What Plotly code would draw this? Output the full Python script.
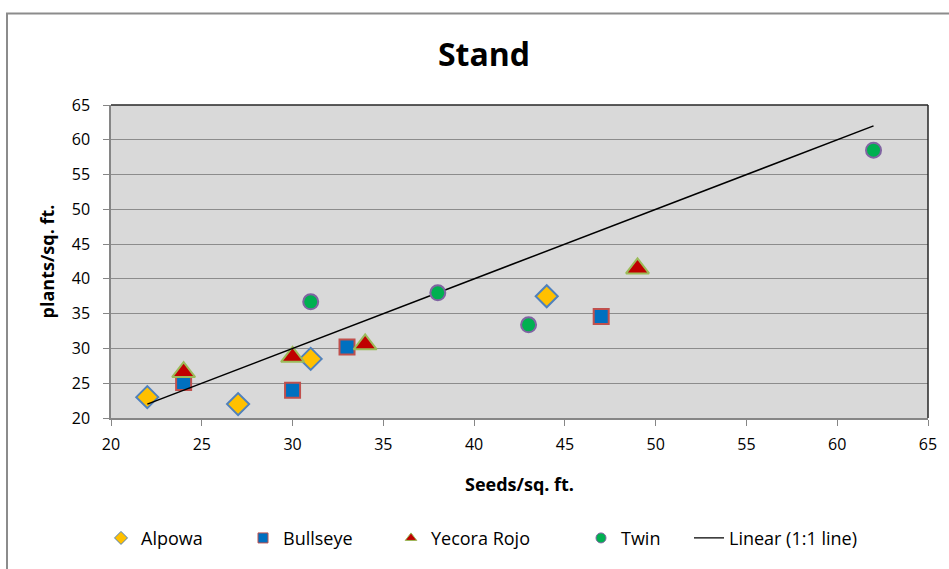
import plotly.graph_objects as go

# Seeding rate vs. established stand, by variety
alpowa_seeds = [22, 27, 31, 44]
alpowa_plants = [23, 22, 28.5, 37.5]

bullseye_seeds = [24, 30, 33, 47]
bullseye_plants = [25.1, 24, 30.2, 34.6]

yecora_seeds = [24, 30, 34, 49]
yecora_plants = [26.6, 28.8, 30.6, 41.5]

twin_seeds = [31, 38, 43, 62]
twin_plants = [36.7, 38, 33.4, 58.5]

line_x = [22, 62]
line_y = [22, 62]

x_ticks = list(range(20, 66, 5))
y_ticks = list(range(20, 66, 5))

FONT = "Open Sans"

series = [
    ("Alpowa", alpowa_seeds, alpowa_plants, "diamond", "#FFC000", "#4F81BD", 17, 97),
    ("Bullseye", bullseye_seeds, bullseye_plants, "square", "#0070C0", "#C0504D", 15, 103),
    ("Yecora Rojo", yecora_seeds, yecora_plants, "triangle-up", "#C00000", "#9BBB59", 20, 145),
]
twin = ("Twin", twin_seeds, twin_plants, "circle", "#00B050", "#8064A2", 15, 63)

fig = go.Figure()

def add_series(name, xs, ys, sym, fill, edge, size, lw):
    fig.add_trace(go.Scatter(
        x=xs, y=ys, mode="markers", name=name, showlegend=False,
        marker=dict(symbol=sym, size=size, color=fill,
                    line=dict(color=edge, width=2)),
    ))

def add_legend_entry(name, sym, fill, edge, lw):
    fig.add_trace(go.Scatter(
        x=[None], y=[None], mode="markers", name=name, legendwidth=lw,
        marker=dict(symbol=sym, size=10, color=fill,
                    line=dict(color=edge, width=1)),
    ))

for s in series:
    add_series(*s)

fig.add_trace(go.Scatter(
    x=line_x, y=line_y, mode="lines", name="Linear (1:1 line)", showlegend=False,
    line=dict(color="black", width=1.5),
))
add_series(*twin)

for name, xs, ys, sym, fill, edge, size, lw in series + [twin]:
    add_legend_entry(name, sym, fill, edge, lw)
fig.add_trace(go.Scatter(
    x=[None], y=[None], mode="lines", name="Linear (1:1 line)",
    line=dict(color="black", width=1.2),
))

L, R, T, B = 111, 21, 105, 149
W, H = 949, 569
pw = W - L - R
ph = H - T - B

def px_x(p):
    return (p - L) / pw

def px_y(p):
    return 1 - (p - T) / ph

fig.update_layout(
    width=W, height=H,
    margin=dict(l=L, r=R, t=T, b=B),
    paper_bgcolor="white",
    plot_bgcolor="#D9D9D9",
    font=dict(family=FONT, color="#000000", size=16),
    title=dict(text="<b>Stand</b>", x=px_x(484), xref="paper", xanchor="center",
               y=1 - 55 / H, yref="container", yanchor="middle",
               font=dict(size=32, family=FONT, color="black")),
    xaxis=dict(
        range=[20, 65], tickvals=x_ticks, showgrid=False, zeroline=False,
        showline=True, linecolor="#868686", linewidth=1.5,
        ticks="outside", ticklen=6, tickcolor="#868686",
        ticklabelstandoff=5,
        tickfont=dict(size=16, color="#000000"),
        title=dict(text="<b>Seeds/sq. ft.</b>", standoff=24,
                   font=dict(size=18, color="black")),
    ),
    yaxis=dict(
        range=[20, 65], tickvals=y_ticks, showgrid=True, gridcolor="#8C8C8C",
        gridwidth=1.2, zeroline=False,
        showline=True, linecolor="#868686", linewidth=1.5,
        ticks="outside", ticklen=6, tickcolor="#868686",
        ticklabelstandoff=10,
        tickfont=dict(size=16, color="#000000"),
        title=dict(text="<b>plants/sq. ft.</b>", standoff=12,
                   font=dict(size=18, color="black")),
    ),
    legend=dict(
        orientation="h", x=px_x(101), xanchor="left",
        y=px_y(541), yanchor="middle",
        font=dict(size=18, color="#000000"), bgcolor="rgba(0,0,0,0)",
        itemclick=False,
    ),
    shapes=[
        # outer chart frame
        dict(type="rect", xref="paper", yref="paper",
             x0=px_x(7), x1=px_x(960), y0=px_y(600), y1=px_y(13),
             line=dict(color="#8C8C8C", width=2), layer="below"),
        # plot area top and right edges
        dict(type="line", xref="paper", yref="paper", x0=0, x1=1, y0=1, y1=1,
             line=dict(color="#262626", width=1.5)),
        dict(type="line", xref="paper", yref="paper", x0=1, x1=1, y0=0, y1=1,
             line=dict(color="#262626", width=1.5)),
    ],
)

fig.write_html("out.html")
